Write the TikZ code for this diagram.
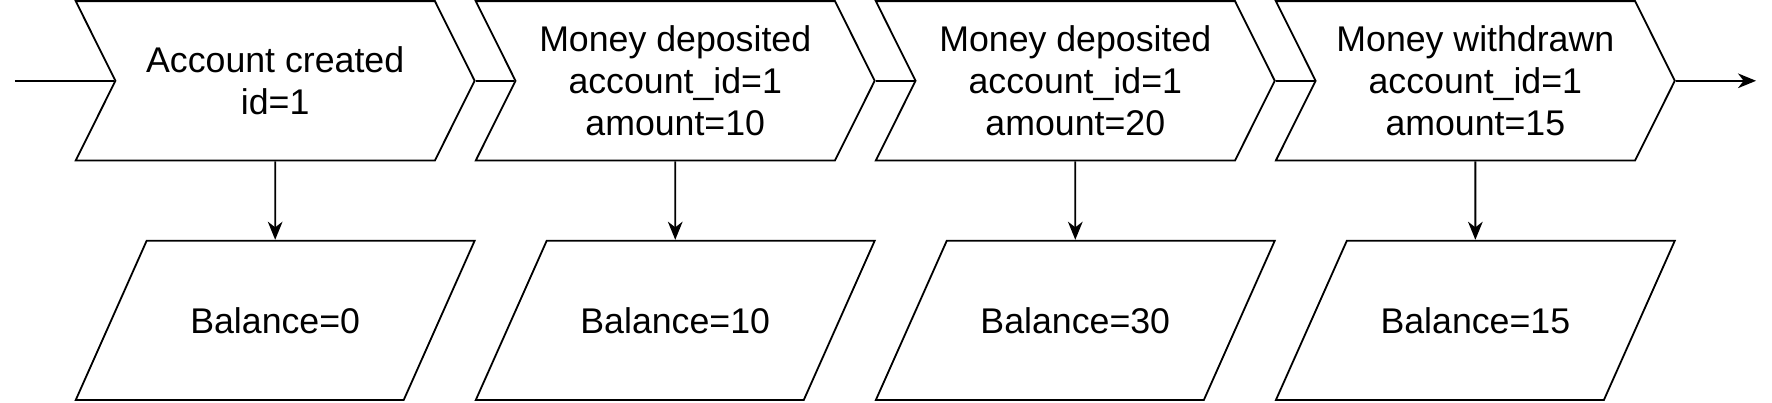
\documentclass[tikz,border=0pt]{standalone}
\usepackage{fontspec}
\setmainfont{Liberation Sans}
\usepackage{tikz}
\usetikzlibrary{shapes.symbols,shapes.geometric,positioning,arrows.meta}

\begin{document}
\begin{tikzpicture}[%
  font=\fontsize{15.8}{18.5}\selectfont,
  line width=0.8pt,
  >={Stealth[length=8pt,width=6.5pt,inset=2.5pt]},
  node distance={106pt and 177pt}, on grid,
  event/.style={signal, draw, signal to=east, signal from=west,
    signal pointer angle=127, minimum width=176.5pt, minimum height=70.5pt,
    align=center, inner sep=0pt},
  balance/.style={trapezium, draw, trapezium left angle=66,
    trapezium right angle=114, trapezium stretches body=true,
    text height=40.9pt, text depth=29.6pt, inner sep=0pt,
    minimum width=176.5pt}]
  \useasboundingbox (0,0) rectangle (784pt,-178pt);
  \node[event] (created) at (121.75pt,-35.75pt) {Account created\\id=1};
  \node[event, right=of created] (deposit1) {Money deposited\\account\_id=1\\amount=10};
  \node[event, right=of deposit1] (deposit2) {Money deposited\\account\_id=1\\amount=20};
  \node[event, right=of deposit2] (withdraw) {Money withdrawn\\account\_id=1\\amount=15};
  \node[balance, below=of created] (bal0) {Balance=0};
  \node[balance, below=of deposit1] (bal10) {Balance=10};
  \node[balance, below=of deposit2] (bal30) {Balance=30};
  \node[balance, below=of withdraw] (bal15) {Balance=15};
  \coordinate[left=44pt of created.west] (start);
  \coordinate[right=35.5pt of withdraw.east] (end);
  \draw (start) -- (created.west);
  \draw (created.east) -- (deposit1.west);
  \draw (deposit1.east) -- (deposit2.west);
  \draw (deposit2.east) -- (withdraw.west);
  \draw[->] (withdraw.east) -- (end);
  \draw[->] (created) -- (bal0);
  \draw[->] (deposit1) -- (bal10);
  \draw[->] (deposit2) -- (bal30);
  \draw[->] (withdraw) -- (bal15);
\end{tikzpicture}
\end{document}
